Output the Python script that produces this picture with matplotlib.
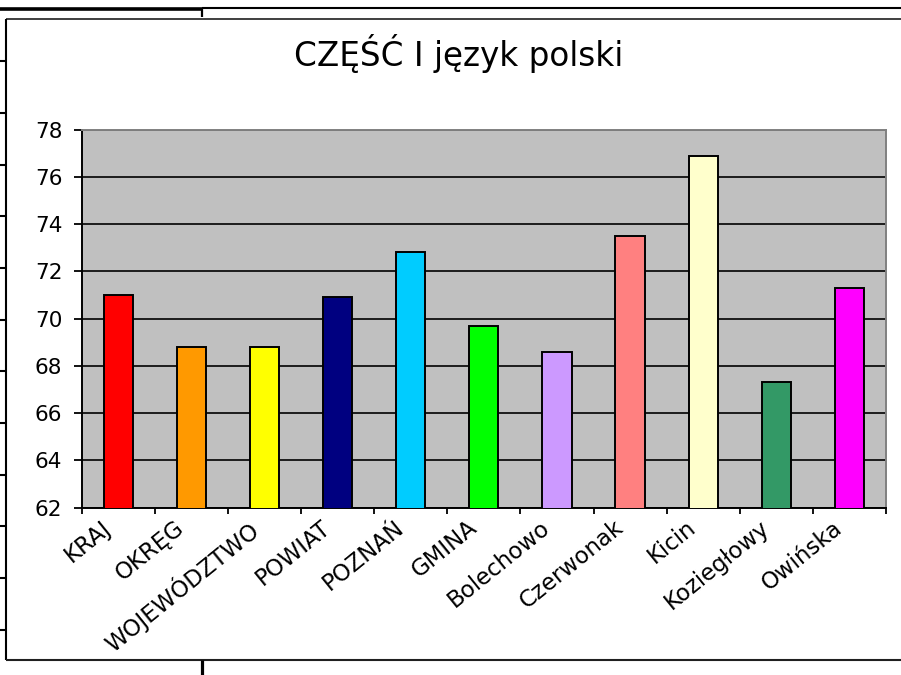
import numpy as np
import matplotlib
matplotlib.use('Agg')
import matplotlib.pyplot as plt
from matplotlib.lines import Line2D
from matplotlib.transforms import ScaledTranslation

# Wyniki - CZĘŚĆ I język polski
categories = ['KRAJ', 'OKRĘG', 'WOJEWÓDZTWO', 'POWIAT', 'POZNAŃ', 'GMINA',
              'Bolechowo', 'Czerwonak', 'Kicin', 'Koziegłowy', 'Owińska']
scores = [71.0, 68.8, 68.8, 70.9, 72.8, 69.7, 68.6, 73.5, 76.9, 67.3, 71.3]
bar_colors = ['#FF0000', '#FF9900', '#FFFF00', '#000080', '#00CCFF', '#00FF00',
              '#CC99FF', '#FF8080', '#FFFFCC', '#339966', '#FF00FF']
y_ticks = list(range(62, 79, 2))
title = 'CZĘŚĆ I język polski'

W, H = 901, 675
plt.rcParams['font.family'] = ['DejaVu Sans']

fig = plt.figure(figsize=(W / 100, H / 100), dpi=100)
fig.patch.set_facecolor('white')


def px(x, y):
    # pixel position -> figure fraction
    return x / W, 1 - y / H


def fig_line(xs, ys, lw, color='black'):
    fx = [x / W for x in xs]
    fy = [1 - y / H for y in ys]
    fig.add_artist(Line2D(fx, fy, lw=lw, color=color, transform=fig.transFigure,
                          solid_capstyle='butt'))


# leftovers of the surrounding frame
fig_line([0, 202], [9, 9], 2.6)
fig_line([202, W], [7.8, 7.8], 1.5)
fig_line([201.5, 201.5], [8, 17], 1.6)
fig_line([5.5, W], [18.5, 18.5], 1.3, '#303030')
fig_line([5.5, 5.5], [18.5, 660], 1.5)
fig_line([5.5, W], [660, 660], 1.5, '#202020')
for ty in [61, 113, 165, 216, 268, 320, 371, 423, 475, 526, 578, 630]:
    fig_line([0, 5.5], [ty, ty], 1.5)
fig_line([201.5, 201.5], [660, H], 2.3)

# plot area
left, top, right, bottom = 81.7, 129.5, 886, 507.7
ax = fig.add_axes([left / W, 1 - bottom / H, (right - left) / W, (bottom - top) / H])
ax.set_facecolor('#C0C0C0')

x = np.arange(len(categories))
ax.bar(x, scores, width=0.4, color=bar_colors, edgecolor='black',
       linewidth=1.4, zorder=3)

ax.set_xlim(-0.5, len(categories) - 0.5)
ax.set_ylim(62, 78)
ax.set_yticks(y_ticks)
ax.yaxis.grid(True, color='black', lw=1.2)
ax.set_axisbelow(True)

for side in ['top', 'right']:
    ax.spines[side].set_color('#808080')
    ax.spines[side].set_linewidth(1.4)
for side in ['left', 'bottom']:
    ax.spines[side].set_color('black')
    ax.spines[side].set_linewidth(1.4)
ax.spines['top'].set_zorder(4)

ax.tick_params(axis='y', direction='out', length=6, width=1.3, pad=8,
               labelsize=15.5, colors='black')

# ticks between categories, labels at category centres
ax.set_xticks(np.arange(-0.5, len(categories)), [''] * (len(categories) + 1))
ax.tick_params(axis='x', which='major', direction='out', length=4, width=1.3)
ax.set_xticks(x, categories, minor=True)
ax.tick_params(axis='x', which='minor', length=0, pad=6, labelsize=16.5)
offset = ScaledTranslation(-0.17, 0, fig.dpi_scale_trans)
for lbl in ax.get_xticklabels(minor=True):
    lbl.set_rotation(39)
    lbl.set_ha('right')
    lbl.set_va('top')
    lbl.set_rotation_mode('anchor')
    lbl.set_transform(lbl.get_transform() + offset)

tx, ty = px(459, 66)
fig.text(tx, ty, title, fontsize=23.5, ha='center', va='baseline')

fig.savefig('out.png', dpi=100)
